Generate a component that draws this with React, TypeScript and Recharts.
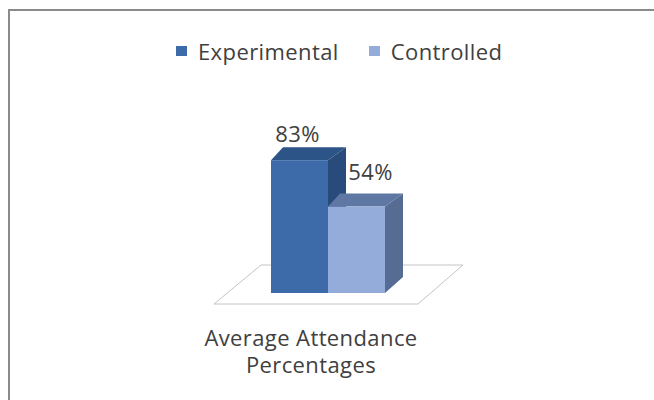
import React from "react";
import { BarChart, Bar, XAxis, YAxis, LabelList } from "recharts";

const categories = ["Average Attendance Percentages"];
const experimental = [83];
const controlled = [54];
const seriesNames = ["Experimental", "Controlled"];

const data = categories.map((c, i) => ({
  name: c,
  Experimental: experimental[i],
  Controlled: controlled[i],
}));

const FONT = "'Open Sans', sans-serif";
const TEXT = "#404040";
const FS = 22;
const LS = 0.4;

const palette = {
  Experimental: { front: "#3D6BA9", top: "#2D5487", side: "#284B7B", legend: "#3D6BA9" },
  Controlled: { front: "#94ACD9", top: "#5F78A3", side: "#566C92", legend: "#94ACD9" },
};

const make3D = (key: "Experimental" | "Controlled", floor: boolean) => (props: any) => {
  const { x, y, width, height } = props;
  const c = palette[key];
  const base = y + height;
  const dl = 12;
  const dr = 18;
  const dy = -13;
  const w = width;
  return (
    <g>
      {floor && (
        <polygon
          points={`${x - w},${base + 11} ${x + 2 * w + 33},${base + 11} ${x + 2 * w + 78},${base - 28} ${x - 10},${base - 28}`}
          fill="#ffffff"
          stroke="#c4c4c4"
          strokeWidth={1}
        />
      )}
      <polygon
        points={`${x + w},${y} ${x + w + dr},${y + dy} ${x + w + dr},${base - 16} ${x + w},${base}`}
        fill={c.side}
      />
      <polygon
        points={`${x},${y} ${x + w},${y} ${x + w + dr},${y + dy} ${x + dl},${y + dy}`}
        fill={c.top}
      />
      <rect x={x} y={y} width={w} height={height} fill={c.front} />
    </g>
  );
};

const makeLabel = (dx: number, dyOff: number) => (props: any) => {
  const { x, y, width, value } = props;
  return (
    <text
      x={x + width / 2 + dx}
      y={y + dyOff}
      textAnchor="middle"
      dominantBaseline="central"
      fontFamily={FONT}
      fontSize={FS}
      letterSpacing={LS}
      fill={TEXT}
    >
      {`${value}%`}
    </text>
  );
};

const CategoryTick = (props: any) => {
  const { x, y, payload } = props;
  const words = String(payload.value).split(" ");
  const lines = [words.slice(0, 2).join(" "), words.slice(2).join(" ")];
  const cx = x - 17;
  return (
    <text
      x={cx}
      y={y + 45}
      textAnchor="middle"
      fontFamily={FONT}
      fontSize={FS}
      letterSpacing={LS}
      fill={TEXT}
    >
      {lines.map((l, i) => (
        <tspan key={i} x={cx} dy={i === 0 ? 0 : 27}>
          {l}
        </tspan>
      ))}
    </text>
  );
};

export default function App() {
  return (
    <div
      style={{
        position: "fixed",
        left: 8,
        top: 8,
        width: 646,
        height: 392,
        background: "#fff",
        overflow: "hidden",
      }}
    >
      <div
        style={{
          position: "absolute",
          left: 0,
          top: 1,
          width: 646,
          height: 391,
          borderTop: "2px solid #8a8a8a",
          borderLeft: "2px solid #8a8a8a",
          boxSizing: "border-box",
        }}
      />
      <div
        style={{
          position: "absolute",
          left: 168,
          top: 28,
          display: "flex",
          alignItems: "center",
          fontFamily: FONT,
          fontSize: FS,
          letterSpacing: LS,
          color: TEXT,
          whiteSpace: "nowrap",
        }}
      >
        {seriesNames.map((n, i) => (
          <div key={n} style={{ display: "flex", alignItems: "center", marginRight: i === 0 ? 30 : 0 }}>
            <span
              style={{
                display: "inline-block",
                width: 11,
                height: 10,
                background: palette[n as "Experimental" | "Controlled"].legend,
                marginRight: 11,
              }}
            />
            <span>{n}</span>
          </div>
        ))}
      </div>
      <div style={{ position: "absolute", left: 0, top: 0 }}>
        <BarChart
          width={646}
          height={392}
          data={data}
          margin={{ top: 125, right: 106, bottom: 47, left: 100 }}
          barGap={0}
          barSize={57}
        >
          <YAxis hide domain={[0, 100]} />
          <XAxis
            dataKey="name"
            axisLine={false}
            tickLine={false}
            height={60}
            interval={0}
            tick={<CategoryTick />}
          />
          <Bar dataKey="Experimental" isAnimationActive={false} shape={make3D("Experimental", true)}>
            <LabelList dataKey="Experimental" content={makeLabel(-2, -27)} />
          </Bar>
          <Bar dataKey="Controlled" isAnimationActive={false} shape={make3D("Controlled", false)}>
            <LabelList dataKey="Controlled" content={makeLabel(14, -36)} />
          </Bar>
        </BarChart>
      </div>
    </div>
  );
}
